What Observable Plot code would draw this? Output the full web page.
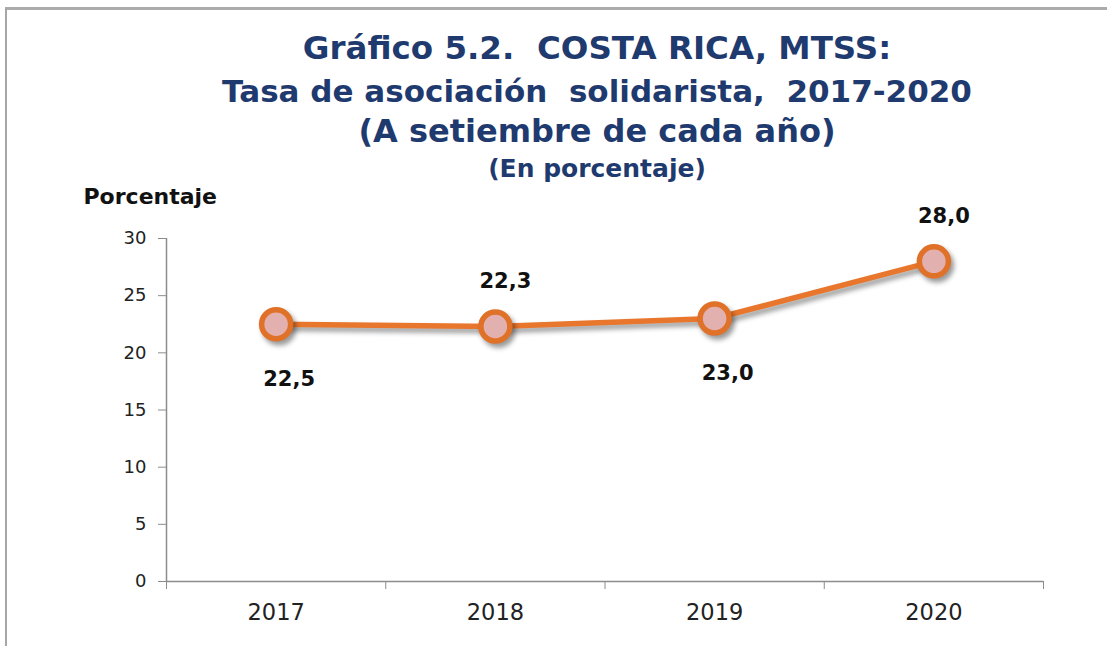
<!DOCTYPE html>
<html>
<head>
<meta charset="utf-8">
<script src="https://cdn.jsdelivr.net/npm/d3@7"></script>
<script src="https://cdn.jsdelivr.net/npm/@observablehq/plot@0.6"></script>
<style>
  html, body { margin: 0; padding: 0; background: #fff; }
  body { width: 1107px; height: 646px; overflow: hidden; font-family: "DejaVu Sans", Verdana, sans-serif; }
  #frame { position: relative; margin: 7px 0 0 5px; border-top: 3px solid #ababab; border-left: 2px solid #a6a6a6; width: 1100px; height: 636px; }
  #header { position: relative; height: 170px; }
  .t { position: absolute; left: 590px; transform: translate(-50%, -50%); white-space: pre; color: #1f3a6e; font-weight: bold; line-height: 1; }
  #chart svg g[aria-label="line"], #chart svg g[aria-label="dot"] { filter: drop-shadow(3px 4px 2.5px rgba(0,0,0,0.4)); }
</style>
</head>
<body>
<div id="frame">
  <div id="header"></div>
  <div id="chart"></div>
</div>
<script>
// ---- data ----
const titleLines = [
  "Gráfico 5.2.  COSTA RICA, MTSS:",
  "Tasa de asociación  solidarista,  2017-2020",
  "(A setiembre de cada año)",
  "(En porcentaje)"
];
const yAxisTitle = "Porcentaje";
const years = [2017, 2018, 2019, 2020];
const values = [22.5, 22.3, 23.0, 28.0];
const valueLabels = ["22,5", "22,3", "23,0", "28,0"];
const yTicks = [0, 5, 10, 15, 20, 25, 30];

// ---- header ----
const header = document.getElementById("header");
const lineTops = [38, 81, 121, 158];
const lineSizes = [32.5, 31, 32, 25];
titleLines.forEach((t, i) => {
  const d = document.createElement("div");
  d.className = "t";
  d.textContent = t;
  d.style.top = lineTops[i] + "px";
  d.style.fontSize = lineSizes[i] + "px";
  header.appendChild(d);
});

// ---- chart ----
const data = years.map((year, i) => ({year, value: values[i], label: valueLabels[i]}));
const boundaries = [...years.map(y => y - 0.5), years[years.length - 1] + 0.5];
const above = [false, true, false, true];

const axisGray = "#8c8c8c";
const chart = Plot.plot({
  width: 1100,
  height: 466,
  marginLeft: 159,
  marginRight: 64,
  marginTop: 58,
  marginBottom: 65,
  x: {domain: [boundaries[0], boundaries[boundaries.length - 1]]},
  y: {domain: [yTicks[0], yTicks[yTicks.length - 1]]},
  style: {fontFamily: "DejaVu Sans, Verdana, sans-serif", background: "transparent", overflow: "visible"},
  marks: [
    Plot.ruleY([0], {stroke: axisGray, strokeWidth: 1.5}),
    Plot.ruleX([boundaries[0]], {stroke: axisGray, strokeWidth: 1.5}),
    Plot.axisY({ticks: yTicks, tickSize: 8, tickPadding: 12, fontSize: 18, stroke: axisGray, fill: "#222", label: null}),
    Plot.axisX({ticks: boundaries, tickSize: 8, tickFormat: () => "", stroke: axisGray, label: null}),
    Plot.axisX({ticks: years, tickSize: 0, tickPadding: 23, tickFormat: "d", fontSize: 22.5, fill: "#222", label: null}),
    Plot.line(data, {x: "year", y: "value", stroke: "#E8762D", strokeWidth: 5.5}),
    Plot.dot(data, {x: "year", y: "value", r: 14.5, fill: "#E3B0B0", stroke: "#E07128", strokeWidth: 5.5}),
    Plot.text(data.filter((d, i) => !above[i]), {x: "year", y: "value", text: "label", dx: 13, dy: 55, fontSize: 21, fontWeight: "bold", fill: "#111"}),
    Plot.text(data.filter((d, i) => above[i]), {x: "year", y: "value", text: "label", dx: 10, dy: -45, fontSize: 21, fontWeight: "bold", fill: "#111"}),
    Plot.text([yAxisTitle], {frameAnchor: "top-left", text: d => d, dx: -83, dy: -50, textAnchor: "start", fontSize: 22, fontWeight: "bold", fill: "#111"})
  ]
});
document.getElementById("chart").appendChild(chart);
</script>
</body>
</html>
